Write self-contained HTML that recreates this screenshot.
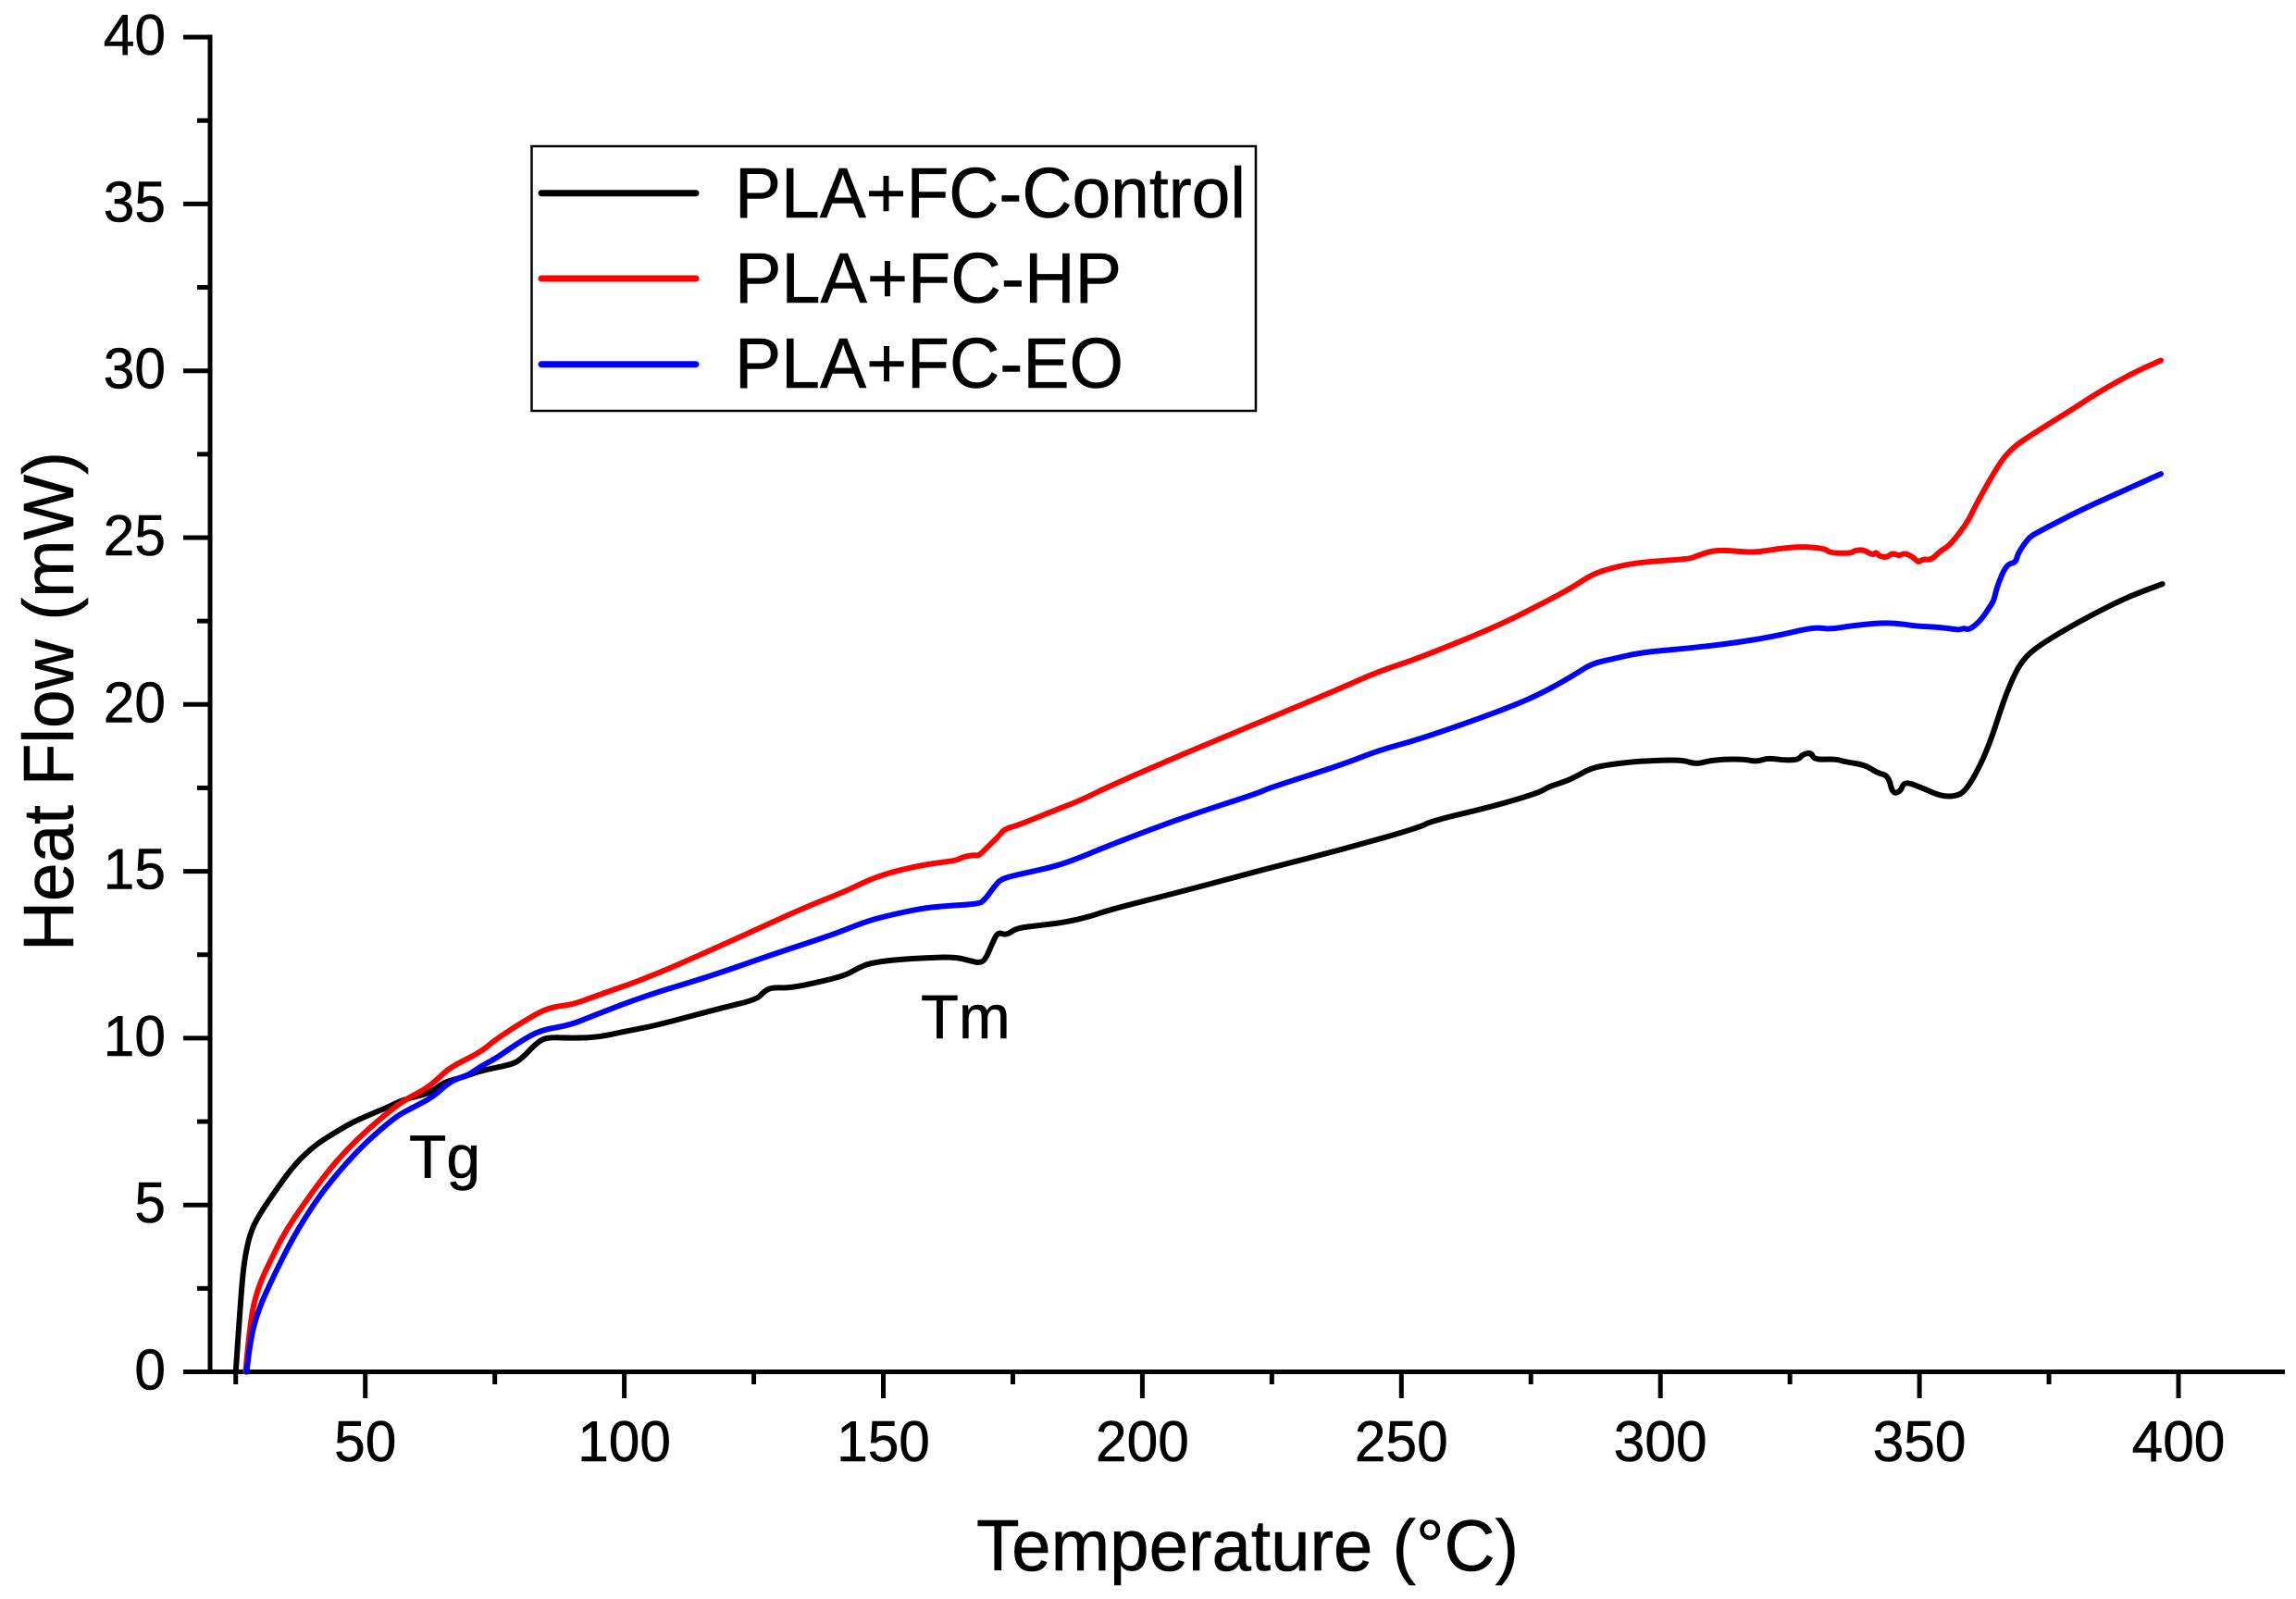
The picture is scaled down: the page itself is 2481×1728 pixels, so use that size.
<!DOCTYPE html>
<html lang="en">
<head>
<meta charset="utf-8">
<title>Heat Flow vs Temperature</title>
<style>
html,body{margin:0;padding:0;background:#fff;}
svg{display:block;}
text{font-family:"Liberation Sans",Arial,sans-serif;fill:#000;stroke:#000;stroke-width:0.6px;}
</style>
</head>
<body>
<svg id="chart" xmlns="http://www.w3.org/2000/svg" width="2481" height="1728" viewBox="0 0 2481 1728">
  <rect x="0" y="0" width="2481" height="1728" fill="#fff"/>
  <g id="axes"></g>
  <g id="series"></g>
  <text transform="translate(79,1028) rotate(-90)" font-size="77" textLength="540" lengthAdjust="spacingAndGlyphs">Heat Flow (mW)</text>
  <text x="1055" y="1697" font-size="78" textLength="586" lengthAdjust="spacingAndGlyphs">Temperature (°C)</text>
  <text x="442" y="1273" font-size="66">Tg</text>
  <text x="995" y="1122" font-size="67">Tm</text>
  <g>
    <rect x="574.5" y="158" width="782.5" height="286" fill="#fff" stroke="#000" stroke-width="2.5"/>
    <line x1="585" y1="208.7" x2="752" y2="208.7" stroke="#000" stroke-width="7" stroke-linecap="round"/>
    <text x="794" y="235" font-size="77" textLength="552" lengthAdjust="spacingAndGlyphs">PLA+FC-Control</text>
    <line x1="585" y1="301" x2="752" y2="301" stroke="#f00" stroke-width="7" stroke-linecap="round"/>
    <text x="794" y="327" font-size="77" textLength="418" lengthAdjust="spacingAndGlyphs">PLA+FC-HP</text>
    <line x1="585" y1="393.7" x2="752" y2="393.7" stroke="#00f" stroke-width="7" stroke-linecap="round"/>
    <text x="794" y="419" font-size="77" textLength="420" lengthAdjust="spacingAndGlyphs">PLA+FC-EO</text>
  </g>
</svg>
<script>
const xMajorTicks = [50,100,150,200,250,300,350,400];
const xMinorTicks = [25,75,125,175,225,275,325,375];
const yMajorTicks = [0,5,10,15,20,25,30,35,40];
const yMinorTicks = [2.5,7.5,12.5,17.5,22.5,27.5,32.5,37.5];

const controlTemps = [25,25.8,26.5,27.7,29.5,33.1,36.6,40.2,43.8,47.4,51.5,54.5,57.5,62.2,65.3,68.3,72.4,78,80,83,85,90,95,100,104.6,110.5,118.2,125.6,126.9,128.4,131.9,137.3,142.7,145.1,147.4,152.2,158.1,163.8,166.5,168.5,169.7,171,172.1,173.7,175.7,180.2,185,189.8,193.9,208.7,223.6,238.5,253.4,255.8,268.3,276.6,278.5,281.4,283.2,286.7,290.3,295.7,304.2,306.8,310,315.9,318.6,320.7,323.7,326.6,327.4,329.1,329.7,333.8,335.6,339.5,341.8,344,344.8,346.4,347.1,350.5,354.2,357,358.8,361.2,363.6,365.9,367.7,369.5,371.9,377.3,383.7,390.3,396.9];
const controlHeat = [0,1.82,3.2,4.14,4.7,5.53,6.26,6.78,7.14,7.47,7.75,7.94,8.17,8.33,8.69,8.8,9.03,9.2,9.35,9.85,10.03,10.0,10.03,10.2,10.33,10.56,10.88,11.16,11.39,11.52,11.5,11.67,11.88,12.1,12.25,12.35,12.41,12.43,12.33,12.25,12.35,12.83,13.18,13.08,13.3,13.38,13.47,13.64,13.86,14.44,15.06,15.65,16.31,16.51,16.97,17.36,17.54,17.68,17.8,18.1,18.2,18.3,18.35,18.2,18.34,18.37,18.28,18.4,18.33,18.34,18.5,18.56,18.34,18.37,18.28,18.19,17.95,17.87,17.32,17.4,17.7,17.5,17.25,17.25,17.4,18.0,18.84,19.95,20.68,21.24,21.64,22.17,22.72,23.23,23.61];

const hpTemps = [26.9,27.8,29.2,31.3,34.3,37.9,42.6,46.8,51,54.5,57.5,61.7,64,66.4,72.4,75.2,83.1,86.3,89.9,94.4,104.6,119.5,134.4,142.7,147,151.6,158.2,164.1,165.3,167.7,168.4,170.2,172.2,173.4,176,182,188,193.9,208.7,223.6,238.5,245.1,253.4,268.3,278.5,283.2,285.6,288,292.8,297.5,305.5,307,310.6,316.6,318.9,323.7,327.5,331.8,332.7,336.8,337.4,339.2,341,341.6,342.2,343.6,344.8,346.1,347.1,348.7,349.8,350.7,352.3,354.1,355.5,357.3,359.4,360.6,363,365.9,368.4,372.5,379.6,384.4,391.6,396.6];
const hpHeat = [0,1.55,2.48,3.21,4.14,4.98,5.98,6.72,7.33,7.79,8.14,8.48,8.78,9.13,9.59,9.97,10.75,10.94,11.0,11.26,11.81,12.83,13.89,14.4,14.73,14.98,15.21,15.32,15.43,15.49,15.46,15.74,16.04,16.27,16.38,16.76,17.12,17.57,18.57,19.53,20.5,20.96,21.39,22.33,23.13,23.53,23.78,23.97,24.18,24.28,24.36,24.45,24.64,24.57,24.57,24.69,24.73,24.67,24.54,24.53,24.61,24.64,24.47,24.57,24.45,24.4,24.54,24.45,24.54,24.43,24.25,24.36,24.33,24.61,24.73,25.05,25.5,25.89,26.58,27.33,27.75,28.17,28.85,29.34,29.97,30.31];

const eoTemps = [27.1,27.8,29.5,32.5,36.1,40.2,43.8,48.6,52.7,56.3,59.3,62.9,65.8,67.6,70,72.4,75.2,80,84,89.6,94.4,104.6,116.5,128.4,140.3,146.2,150.5,157,161.8,168.3,169.5,171.6,172.9,177.8,183.2,188,193.9,208.7,222.5,224.3,238.5,245.7,253.4,268.3,276.6,283.2,286.7,290.9,296.3,305.2,314.2,322.6,329.7,332.7,336.8,342.7,346.3,349.3,354.1,357.7,358.6,359.6,361.8,363.9,364.4,365,366.8,368.6,369,371,372.5,380.9,387.4,396.6];
const eoHeat = [0,0.99,1.92,2.93,4.04,5.06,5.8,6.64,7.23,7.69,7.93,8.22,8.62,8.78,8.9,9.17,9.39,9.91,10.25,10.39,10.7,11.3,11.85,12.5,13.1,13.47,13.66,13.88,13.96,14.02,14.13,14.58,14.79,14.96,15.15,15.41,15.8,16.66,17.35,17.49,18.19,18.63,18.95,19.76,20.29,20.87,21.22,21.37,21.56,21.68,21.84,22.06,22.32,22.25,22.36,22.45,22.42,22.35,22.31,22.23,22.29,22.23,22.51,23.0,23.14,23.55,24.2,24.25,24.53,24.98,25.14,25.81,26.27,26.91];

const svgNS = 'http://www.w3.org/2000/svg';
const axesGroup = document.getElementById('axes');
const seriesGroup = document.getElementById('series');

function xScale(t){ return 394.7 + (t - 50) * 5.598; }
function yScale(v){ return 1482.5 - v * 36.06; }

function drawLine(x1, y1, x2, y2, name){
  const el = document.createElementNS(svgNS, 'line');
  el.setAttribute('x1', x1);
  el.setAttribute('y1', y1);
  el.setAttribute('x2', x2);
  el.setAttribute('y2', y2);
  el.setAttribute('stroke', '#000');
  el.setAttribute('stroke-width', '5');
  
  
  axesGroup.appendChild(el);
}

function drawLabel(x, y, anchor, content, name){
  const el = document.createElementNS(svgNS, 'text');
  el.setAttribute('x', x);
  el.setAttribute('y', y);
  el.setAttribute('text-anchor', anchor);
  el.setAttribute('font-size', '62');
  el.setAttribute('textLength', (content.length * 33.6).toFixed(1));
  el.setAttribute('lengthAdjust', 'spacingAndGlyphs');
  el.textContent = content;
  
  
  axesGroup.appendChild(el);
}

drawLine(227, 37.5, 227, 1485, 'y-axis-line');
drawLine(198, 1482.5, 2469, 1482.5, 'x-axis-line');

xMajorTicks.forEach(function(t){
  drawLine(xScale(t), 1482.5, xScale(t), 1511, 'x-major-tick');
  drawLabel(xScale(t), 1579, 'middle', String(t), 'x-tick-label');
});
xMinorTicks.forEach(function(t){
  drawLine(xScale(t), 1482.5, xScale(t), 1496, 'x-minor-tick');
});
yMajorTicks.forEach(function(v){
  drawLine(198, yScale(v), 227, yScale(v), 'y-major-tick');
  drawLabel(179, yScale(v) + 19, 'end', String(v), 'y-tick-label');
});
yMinorTicks.forEach(function(v){
  drawLine(213, yScale(v), 227, yScale(v), 'y-minor-tick');
});

function drawSeries(temps, heat, color, name){
  const xs = temps.map(xScale);
  const ys = heat.map(yScale);
  let d = 'M' + xs[0].toFixed(1) + ' ' + ys[0].toFixed(1);
  for (let i = 1; i < xs.length - 1; i++) {
    const mx = (xs[i] + xs[i + 1]) / 2;
    const my = (ys[i] + ys[i + 1]) / 2;
    d += ' Q' + xs[i].toFixed(1) + ' ' + ys[i].toFixed(1) + ' ' + mx.toFixed(1) + ' ' + my.toFixed(1);
  }
  d += ' L' + xs[xs.length - 1].toFixed(1) + ' ' + ys[ys.length - 1].toFixed(1);
  const el = document.createElementNS(svgNS, 'path');
  el.setAttribute('d', d);
  el.setAttribute('fill', 'none');
  el.setAttribute('stroke', color);
  el.setAttribute('stroke-width', '6');
  el.setAttribute('stroke-linejoin', 'round');
  el.setAttribute('stroke-linecap', 'round');
  
  
  seriesGroup.appendChild(el);
}

drawSeries(controlTemps, controlHeat, '#000', 'series-pla-fc-control');
drawSeries(hpTemps, hpHeat, '#f00', 'series-pla-fc-hp');
drawSeries(eoTemps, eoHeat, '#00f', 'series-pla-fc-eo');
</script>
</body>
</html>
